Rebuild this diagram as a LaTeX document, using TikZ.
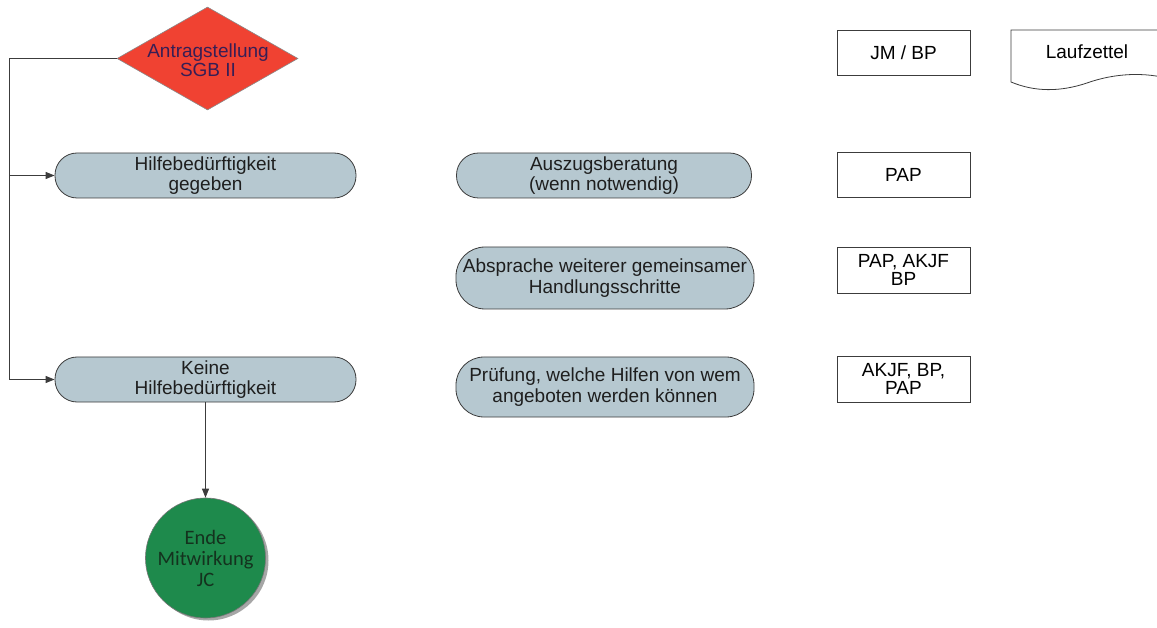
\documentclass[tikz,border=0pt]{standalone}
\usepackage{fontspec}
\setmainfont{Liberation Sans}
\newfontfamily\calfont{Carlito}
\usetikzlibrary{shapes.geometric,arrows.meta}
\definecolor{pillfill}{RGB}{182,200,208}
\definecolor{redfill}{RGB}{240,66,50}
\definecolor{greenfill}{RGB}{30,138,76}
\definecolor{linecol}{RGB}{60,60,60}
\definecolor{darktext}{RGB}{30,30,30}
\definecolor{diamtext}{RGB}{55,30,85}
\definecolor{circtext}{RGB}{20,50,30}
\tikzset{
  x=1pt, y=-1pt,
  txt/.style={font=\fontsize{19}{20.5}\selectfont, text=darktext, align=center},
  pill/.style={rectangle, rounded corners=#1, draw=linecol, line width=0.8pt, fill=pillfill,
    inner sep=0pt, txt},
  rolebox/.style={rectangle, draw=linecol, line width=0.8pt, fill=white,
    minimum width=133pt, inner sep=0pt, txt, text=black, font=\fontsize{19}{18.5}\selectfont},
  arr/.style={draw=linecol, line width=0.9pt, -{Triangle[length=9pt,width=7pt]}},
  conn/.style={draw=linecol, line width=0.9pt}
}
\begin{document}
\begin{tikzpicture}
\useasboundingbox (0,0) rectangle (1157,628);
% start diamond
\node[diamond, draw=linecol!60, line width=0.6pt, fill=redfill, inner sep=0pt,
  minimum width=181pt, minimum height=103pt, shape aspect=1.757] (ant) at (207.5,58.5) {};
\node[txt, text=diamtext, font=\fontsize{19}{19.5}\selectfont] (antt) at (208,60) {Antragstellung\\SGB II};
% left column
\node[pill=22pt, minimum width=301pt, minimum height=45pt] (hilfe) at (205.5,175.5) {Hilfebedürftigkeit\\gegeben};
\node[pill=22pt, minimum width=301pt, minimum height=45pt] (keine) at (205.5,379.5) {Keine\\Hilfebedürftigkeit};
% end circle
\fill[gray!70] (208.5,560.5) circle (60pt);
\node[circle, draw=linecol!70, line width=0.6pt, fill=greenfill, minimum size=120pt, inner sep=0pt,
  text=circtext, align=center, font=\calfont\fontsize{20.5}{21}\selectfont] (ende) at (205.5,558) {Ende\\Mitwirkung\\JC};
% middle column
\node[pill=22pt, minimum width=295pt, minimum height=45pt] (ausz) at (604,175.5) {Auszugsberatung\\(wenn notwendig)};
\node[pill=29pt, minimum width=298pt, minimum height=62pt] (abspr) at (605,278) {Absprache weiterer gemeinsamer\\Handlungsschritte};
\node[pill=28pt, minimum width=298pt, minimum height=60pt] (pruef) at (605,387) {Prüfung, welche Hilfen von wem\\angeboten werden können};
% right column
\node[rolebox, minimum height=45pt] (jm) at (903.5,52.5) {JM / BP};
\node[rolebox, minimum height=45pt] (pap) at (903.5,174.5) {PAP};
\node[rolebox, minimum height=46pt] (pap2) at (903.5,270) {PAP, AKJF\\BP};
\node[rolebox, minimum height=46pt] (akjf) at (903.5,379) {AKJF, BP,\\PAP};
% document shape
\begin{scope}
\clip (0,0) rectangle (1157,628);
\draw[draw=linecol, line width=0.8pt, fill=white]
  (1011,30) -- (1170,30) -- (1170,79)
  .. controls (1145,72) and (1115,73) .. (1087,83)
  .. controls (1060,92) and (1035,92) .. (1011,82) -- cycle;
\end{scope}
\node[txt, text=black] (lauf) at (1087,52) {Laufzettel};
% connectors
\path (ant.west) -- ++(-107.5,0) coordinate (corner);
\draw[arr] (ant.west) -- (corner) |- (keine.west);
\draw[arr] (corner |- hilfe.west) -- (hilfe.west);
\draw[arr] (keine.south) -- (keine.south |- ende.north);
\end{tikzpicture}
\end{document}
